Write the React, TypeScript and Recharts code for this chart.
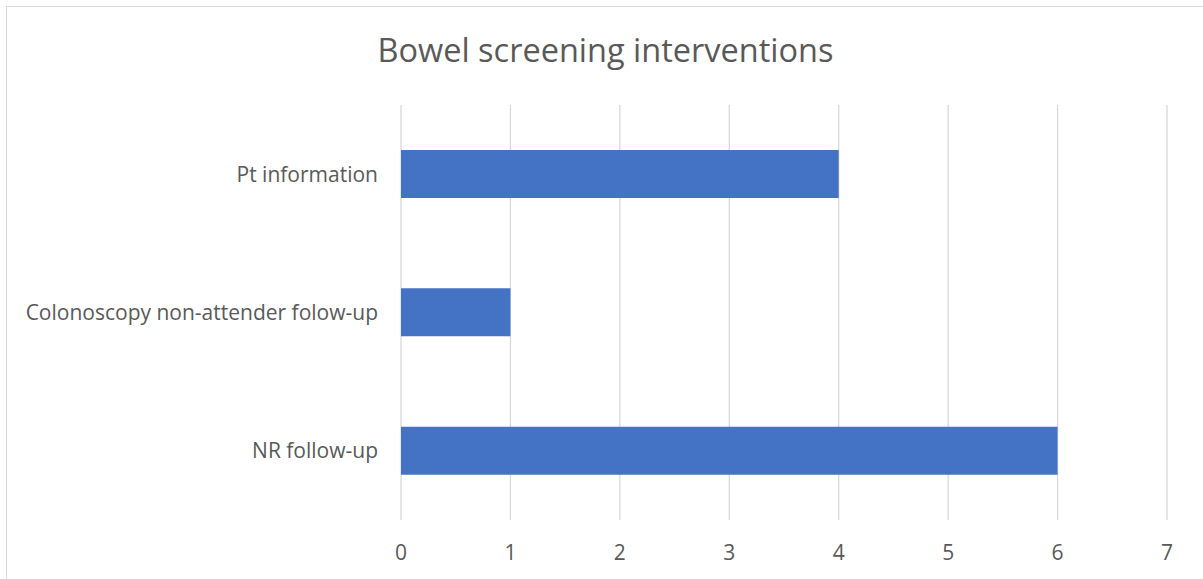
import { BarChart, Bar, XAxis, YAxis, CartesianGrid } from "recharts";

const categories = ["Pt information", "Colonoscopy non-attender folow-up", "NR follow-up"];
const counts = [4, 1, 6];
const xTicks = [0, 1, 2, 3, 4, 5, 6, 7];

const data = categories.map((name, i) => ({ name, value: counts[i] }));

const FONT = "'Open Sans', 'Noto Sans', sans-serif";
const TEXT = "#595959";

export default function App() {
  return (
    <div
      style={{
        position: "absolute",
        left: 0,
        top: 0,
        width: 1203,
        height: 579,
        overflow: "hidden",
        background: "#fff",
        fontFamily: FONT,
      }}
    >
      {/* chart frame, cropped on right and bottom like the source */}
      <div
        style={{
          position: "absolute",
          left: 6,
          top: 6,
          width: 1220,
          height: 600,
          border: "1.5px solid #d9d9d9",
        }}
      />
      <div
        style={{
          position: "absolute",
          left: 0,
          top: 27,
          width: 1211,
          textAlign: "center",
          fontSize: 32.5,
          color: TEXT,
        }}
      >
        Bowel screening interventions
      </div>
      <div style={{ position: "absolute", left: 0, top: 0 }}>
        <BarChart
          width={1203}
          height={579}
          data={data}
          layout="vertical"
          margin={{ top: 105, right: 36, bottom: 0, left: 0 }}
        >
          <CartesianGrid horizontal={false} stroke="#d9d9d9" strokeWidth={1.3} />
          <XAxis
            type="number"
            domain={[0, 7]}
            ticks={xTicks}
            interval={0}
            axisLine={false}
            tickLine={false}
            height={59}
            tickMargin={19}
            tick={{ fontSize: 21, fill: TEXT, fontFamily: FONT }}
          />
          <YAxis
            type="category"
            dataKey="name"
            width={401}
            axisLine={false}
            tickLine={false}
            tickMargin={17}
            tick={{ fontSize: 21, fill: TEXT, fontFamily: FONT }}
          />
          <Bar dataKey="value" fill="#4472c4" barSize={48} isAnimationActive={false} />
        </BarChart>
      </div>
    </div>
  );
}
